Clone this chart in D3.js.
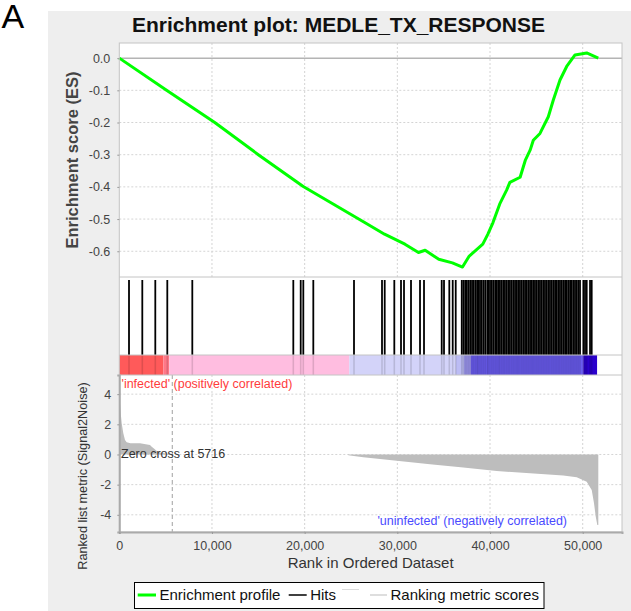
<!DOCTYPE html>
<html>
<head>
<meta charset="utf-8">
<script src="https://cdn.jsdelivr.net/npm/d3@7"></script>
<style>
  body { margin: 0; background: #fff; }
  svg { display: block; font-family: "Liberation Sans", Arial, sans-serif; }
</style>
</head>
<body>
<script>
// enrichment profile: [rank, ES]
var esProfile = [
  [0, 0], [5100, -0.1], [10300, -0.2], [15000, -0.3], [19850, -0.399], [26430, -0.51],
  [28620, -0.547], [30820, -0.578], [32280, -0.604], [33000, -0.597], [34470, -0.625],
  [35940, -0.636], [37030, -0.649], [37760, -0.615], [39220, -0.578], [39770, -0.547],
  [40320, -0.511], [41050, -0.453], [41790, -0.41], [42140, -0.386], [43250, -0.37],
  [43800, -0.318], [44340, -0.285], [44670, -0.255], [45390, -0.234], [46290, -0.182],
  [46830, -0.13], [47550, -0.068], [48270, -0.026], [49170, 0.01], [50430, 0.016],
  [51680, 0.0]
];

// ranks of gene set members
var hitRanks = [
  1047, 2482, 3884, 5179, 7877,
  18775, 19573, 19854, 20933, 25324,
  28345, 28637, 29673, 30395, 30719, 31474, 32446, 32877,
  34787, 35035, 35607, 35974, 36298,
  36950, 37130, 37320, 37500, 37690, 37870, 38060, 38240, 38430, 38610, 38740,
  38920, 39100, 39290, 39480, 39700,
  39820, 40000, 40190, 40370, 40560, 40740, 40920, 41070,
  41260, 41440, 41610,
  41800, 41980, 42150,
  42340, 42520, 42700, 42880,
  43050, 43230, 43420, 43600, 43780, 43960, 44140, 44320, 44500,
  44670, 44850, 45030, 45210, 45390, 45570, 45750, 45930, 46110, 46290, 46470,
  46660, 46840, 47020, 47200, 47380, 47550,
  47740, 47920, 48100, 48280, 48460, 48640, 48810,
  48990, 49170, 49350,
  49530, 49710,
  50070, 50250, 50430,
  50790, 50970
];

// ranked list metric: [rank, signal2noise]
var metricProfile = [
  [0, 3.43], [76, 3.43], [151, 2.75], [259, 2.07], [432, 1.4], [615, 0.96],
  [798, 0.81], [1200, 0.75], [2234, 0.74], [3313, 0.63], [3496, 0.52], [3700, 0.41],
  [4208, 0.15], [5716, 0], [24700, 0], [24709, -0.05], [26328, -0.19], [29931, -0.41],
  [33525, -0.65], [37118, -0.87], [40721, -1.09], [44315, -1.25], [47908, -1.4],
  [49353, -1.51], [50432, -1.8], [50972, -2.35], [51220, -3.23], [51404, -4.12],
  [51576, -4.67], [51684, -4.67]
];

// heat bar band edges (ranks)
var bandEdges = [0, 4750, 5400, 24820, 36300, 37200, 37900, 50060, 51550];

var xTicks = [0, 10000, 20000, 30000, 40000, 50000];
var esTicks = [0, -0.1, -0.2, -0.3, -0.4, -0.5, -0.6];
var metricTicks = [4, 2, 0, -2, -4];
var zeroCross = 5716;

var bandColors = ["#ff5a5a", "#ff7888", "#ffbde0", "#d3d3f9", "#bcbcf4", "#9c96f0", "#6a5cf0", "#2a00cc"];

var left = 119.3, right = 622,
    esTop = 43, esBottom = 277,
    hitTop = 280, barTop = 355, barBottom = 375,
    mTop = 375, mBottom = 532;

var x = d3.scaleLinear().domain([0, 54240]).range([left, right]);
var yES = d3.scaleLinear().domain([-0.68, 0.047]).range([esBottom, esTop]);
var yM = d3.scaleLinear().domain([-5.14, 5.27]).range([mBottom, mTop]);

var svg = d3.select("body").append("svg")
    .attr("width", 631)
    .attr("height", 611);

svg.append("rect")
    .attr("x", 48).attr("y", 11)
    .attr("width", 583).attr("height", 600)
    .attr("fill", "#eeeeee");

svg.append("text")
    .attr("x", 1.5).attr("y", 28)
    .attr("font-size", 34)
    .attr("fill", "#000")
    .text("A");

svg.append("text")
    .attr("x", 338.5).attr("y", 32)
    .attr("text-anchor", "middle")
    .attr("font-size", 21)
    .attr("font-weight", "bold")
    .attr("fill", "#111")
    .text("Enrichment plot: MEDLE_TX_RESPONSE");

svg.append("rect")
    .attr("x", left).attr("y", esTop)
    .attr("width", right - left).attr("height", mBottom - esTop)
    .attr("fill", "#fff");

// grid lines
var grid = svg.append("g")
    .attr("stroke", "#d4d4d4")
    .attr("stroke-dasharray", "2,2")
    .attr("stroke-width", 1);

grid.selectAll(".ves").data(xTicks.slice(1)).enter().append("line")
    .attr("x1", function(d) { return x(d); }).attr("x2", function(d) { return x(d); })
    .attr("y1", esTop).attr("y2", esBottom);
grid.selectAll(".hes").data(esTicks.slice(1)).enter().append("line")
    .attr("x1", left).attr("x2", right)
    .attr("y1", function(d) { return yES(d); }).attr("y2", function(d) { return yES(d); });
grid.selectAll(".vm").data(xTicks.slice(1)).enter().append("line")
    .attr("x1", function(d) { return x(d); }).attr("x2", function(d) { return x(d); })
    .attr("y1", mTop).attr("y2", mBottom);
grid.selectAll(".hm").data(metricTicks).enter().append("line")
    .attr("x1", left).attr("x2", right)
    .attr("y1", function(d) { return yM(d); }).attr("y2", function(d) { return yM(d); });

// ES zero line
svg.append("line")
    .attr("x1", left).attr("x2", right)
    .attr("y1", yES(0)).attr("y2", yES(0))
    .attr("stroke", "#b4b4b4")
    .attr("stroke-width", 1.5);

// enrichment profile
var line = d3.line()
    .x(function(d) { return x(d[0]); })
    .y(function(d) { return yES(d[1]); });

svg.append("path")
    .datum(esProfile)
    .attr("d", line)
    .attr("fill", "none")
    .attr("stroke", "#00ff00")
    .attr("stroke-width", 3)
    .attr("stroke-linejoin", "round");

// heat bar
svg.selectAll(".band").data(bandEdges.slice(1)).enter().append("rect")
    .attr("x", function(d, i) { return x(bandEdges[i]); })
    .attr("width", function(d, i) { return x(d) - x(bandEdges[i]); })
    .attr("y", barTop).attr("height", barBottom - barTop)
    .attr("fill", function(d, i) { return bandColors[i]; });

svg.selectAll(".hitbar").data(hitRanks).enter().append("line")
    .attr("x1", function(d) { return x(d); }).attr("x2", function(d) { return x(d); })
    .attr("y1", barTop).attr("y2", barBottom)
    .attr("stroke", "#000")
    .attr("stroke-opacity", 0.13)
    .attr("stroke-width", 1.6);

// hits
svg.selectAll(".hit").data(hitRanks).enter().append("line")
    .attr("x1", function(d) { return x(d); }).attr("x2", function(d) { return x(d); })
    .attr("y1", hitTop).attr("y2", barTop)
    .attr("stroke", "#000")
    .attr("stroke-width", 1.8);

// ranked list metric
var area = d3.area()
    .x(function(d) { return x(d[0]); })
    .y0(yM(0))
    .y1(function(d) { return yM(d[1]); });

svg.append("path")
    .datum(metricProfile)
    .attr("d", area)
    .attr("fill", "#bdbdbd");

svg.append("line")
    .attr("x1", x(zeroCross)).attr("x2", x(zeroCross))
    .attr("y1", mTop).attr("y2", mBottom)
    .attr("stroke", "#a0a0a0")
    .attr("stroke-dasharray", "4,3");

// panel outlines
var outline = svg.append("g")
    .attr("fill", "none")
    .attr("stroke", "#c4c4c4");
outline.append("rect")
    .attr("x", left).attr("y", esTop)
    .attr("width", right - left).attr("height", mBottom - esTop);
outline.append("line").attr("x1", left).attr("x2", right).attr("y1", esBottom).attr("y2", esBottom);
outline.append("line").attr("x1", left).attr("x2", right).attr("y1", barTop).attr("y2", barTop);
outline.append("line").attr("x1", left).attr("x2", right).attr("y1", barBottom).attr("y2", barBottom);

// axes
function styleAxis(g, size) {
  g.selectAll("text").attr("fill", "#444").attr("font-size", size);
  g.selectAll("line").attr("stroke", "#999");
  g.select(".domain").attr("stroke", "#aaa").attr("stroke-width", 2);
  g.attr("font-family", null);
}

svg.append("g")
    .attr("transform", "translate(" + left + ",0)")
    .call(d3.axisLeft(yES).tickValues(esTicks).tickSize(2).tickPadding(7)
      .tickFormat(function(d) { return d.toFixed(1); }))
    .call(function(g) { styleAxis(g, 12.5); g.select(".domain").remove(); });

svg.append("g")
    .attr("transform", "translate(" + left + ",0)")
    .call(d3.axisLeft(yM).tickValues(metricTicks).tickSize(2).tickPadding(6)
      .tickFormat(function(d) { return String(d); }))
    .call(function(g) { styleAxis(g, 12.5); });

svg.append("g")
    .attr("transform", "translate(0," + mBottom + ")")
    .call(d3.axisBottom(x).tickValues(xTicks).tickSize(2).tickPadding(7)
      .tickFormat(d3.format(",")))
    .call(function(g) { styleAxis(g, 12.5); });

// labels
svg.append("text")
    .attr("transform", "translate(78,160) rotate(-90)")
    .attr("text-anchor", "middle")
    .attr("font-size", 16.5)
    .attr("font-weight", "bold")
    .attr("fill", "#444")
    .text("Enrichment score (ES)");

svg.append("text")
    .attr("transform", "translate(87,476) rotate(-90)")
    .attr("text-anchor", "middle")
    .attr("font-size", 12.7)
    .attr("fill", "#333")
    .text("Ranked list metric (Signal2Noise)");

svg.append("text")
    .attr("x", (left + right) / 2).attr("y", 568)
    .attr("text-anchor", "middle")
    .attr("font-size", 15)
    .attr("fill", "#333")
    .text("Rank in Ordered Dataset");

svg.append("text")
    .attr("x", 121.5).attr("y", 388)
    .attr("font-size", 12.5)
    .attr("fill", "#ff3c3c")
    .text("'infected' (positively correlated)");

svg.append("text")
    .attr("x", 567).attr("y", 525)
    .attr("text-anchor", "end")
    .attr("font-size", 12.5)
    .attr("fill", "#4a4aff")
    .text("'uninfected' (negatively correlated)");

svg.append("text")
    .attr("x", 121).attr("y", 457.5)
    .attr("font-size", 12.5)
    .attr("fill", "#333")
    .text("Zero cross at " + zeroCross);

// legend
var legend = svg.append("g");
legend.append("rect")
    .attr("x", 134.5).attr("y", 582.5)
    .attr("width", 409.5).attr("height", 26)
    .attr("fill", "#fff")
    .attr("stroke", "#000");

var legendItems = [
  {label: "Enrichment profile", x1: 137.7, x2: 156, y: 595, color: "#00ff00", w: 3},
  {label: "Hits", x1: 288.7, x2: 306.7, y: 595, color: "#000", w: 1.5},
  {label: "", x1: 342, x2: 359, y: 589.5, color: "#dcdcdc", w: 1},
  {label: "Ranking metric scores", x1: 370, x2: 387, y: 595, color: "#bdbdbd", w: 1}
];

legend.selectAll("line").data(legendItems).enter().append("line")
    .attr("x1", function(d) { return d.x1; }).attr("x2", function(d) { return d.x2; })
    .attr("y1", function(d) { return d.y; }).attr("y2", function(d) { return d.y; })
    .attr("stroke", function(d) { return d.color; })
    .attr("stroke-width", function(d) { return d.w; });

legend.selectAll("text").data(legendItems).enter().append("text")
    .attr("x", function(d) { return d.x2 + 3.5; })
    .attr("y", 600)
    .attr("font-size", 15)
    .attr("fill", "#111")
    .text(function(d) { return d.label; });
</script>
</body>
</html>
